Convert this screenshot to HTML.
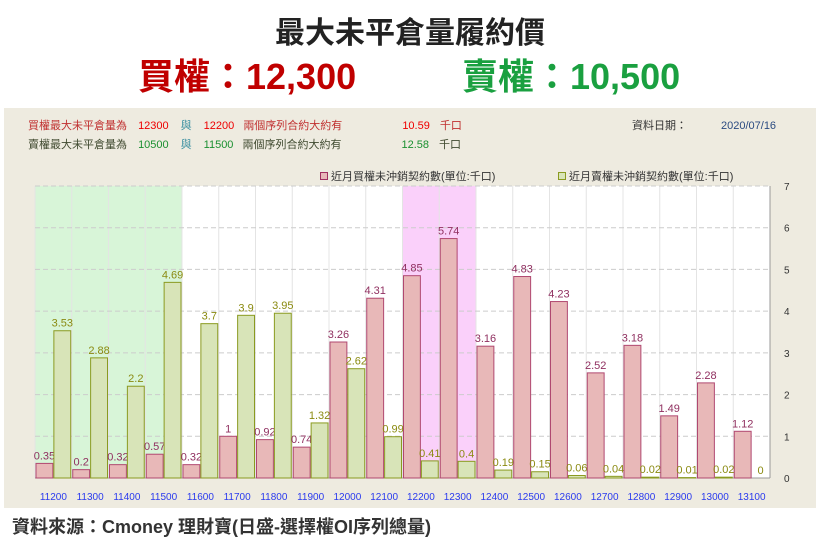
<!DOCTYPE html>
<html><head><meta charset="utf-8"><style>
body{margin:0;width:820px;height:551px;background:#fff;font-family:"Liberation Sans","Noto Sans CJK TC",sans-serif;position:relative;overflow:hidden}
.t{position:absolute;white-space:nowrap}
</style></head><body>
<div class="t" style="left:0;width:820px;text-align:center;top:8px;font-size:30px;font-weight:bold;color:#222">最大未平倉量履約價</div>
<div class="t" style="left:138px;top:48px;font-size:36px;font-weight:bold;color:#c00000">買權：12,300</div>
<div class="t" style="left:462px;top:48px;font-size:36px;font-weight:bold;color:#1aa040">賣權：10,500</div>
<div style="position:absolute;left:4px;top:108px;width:812px;height:400px;background:#eeebe0"></div>
<div class="t" style="left:28px;top:117px;font-size:11px;color:#c03030">買權最大未平倉量為 <span style="color:#e00;margin-left:8px">12300</span><span style="color:#3a8fa0;margin-left:12px">與</span><span style="color:#e00;margin-left:12px">12200</span> <span style="margin-left:6px">兩個序列合約大約有</span><span style="color:#e00;margin-left:60px">10.59</span><span style="margin-left:10px">千口</span></div>
<div class="t" style="left:28px;top:136px;font-size:11px;color:#404a30">賣權最大未平倉量為 <span style="color:#1a9030;margin-left:8px">10500</span><span style="color:#3a8fa0;margin-left:12px">與</span><span style="color:#1a9030;margin-left:12px">11500</span> <span style="margin-left:6px">兩個序列合約大約有</span><span style="color:#1a9030;margin-left:60px">12.58</span><span style="margin-left:10px">千口</span></div>
<div class="t" style="left:632px;top:117px;font-size:11px;color:#333">資料日期：<span style="color:#2a4a80;margin-left:34px">2020/07/16</span></div>
<div class="t" style="left:320px;top:168px;font-size:11px;color:#333"><span style="display:inline-block;width:6px;height:6px;border:1px solid #a03060;background:#e8b8b8;margin-right:3px"></span>近月買權未沖銷契約數(單位:千口)</div>
<div class="t" style="left:558px;top:168px;font-size:11px;color:#333"><span style="display:inline-block;width:6px;height:6px;border:1px solid #8a9a20;background:#d8e4b8;margin-right:3px"></span>近月賣權未沖銷契約數(單位:千口)</div>
<svg id="c" width="820" height="551" style="position:absolute;left:0;top:0"></svg>
<div class="t" style="left:12px;top:513px;font-size:18px;font-weight:bold;color:#333">資料來源：Cmoney 理財寶(日盛-選擇權OI序列總量)</div>
<script>
const categories=["11200","11300","11400","11500","11600","11700","11800","11900","12000","12100","12200","12300","12400","12500","12600","12700","12800","12900","13000","13100"];
const callValues=[0.35,0.2,0.32,0.57,0.32,1,0.92,0.74,3.26,4.31,4.85,5.74,3.16,4.83,4.23,2.52,3.18,1.49,2.28,1.12];
const putValues=[3.53,2.88,2.2,4.69,3.7,3.9,3.95,1.32,2.62,0.99,0.41,0.4,0.19,0.15,0.06,0.04,0.02,0.01,0.02,0];
const yTicks=[0,1,2,3,4,5,6,7];
const putHighlight=[0,3];
const callHighlight=[10,11];
const svg=document.getElementById('c');const NS='http://www.w3.org/2000/svg';
const X0=35,X1=770,Y0=478,Y1=186,YMAX=7;
const bw=(X1-X0)/categories.length;
const x=i=>X0+i*bw;
const y=v=>Y0-(v/YMAX)*(Y0-Y1);
function mk(t,a,txt){const e=document.createElementNS(NS,t);for(const k in a)e.setAttribute(k,a[k]);if(txt!==undefined)e.textContent=txt;svg.appendChild(e);return e;}
let e=mk('rect',{x:X0,y:Y1,width:X1-X0,height:Y0-Y1,fill:'#fff'});


e=mk('rect',{x:x(putHighlight[0]),y:Y1,width:x(putHighlight[1]+1)-x(putHighlight[0]),height:Y0-Y1,fill:'#d8f5d8'});


e=mk('rect',{x:x(callHighlight[0]),y:Y1,width:x(callHighlight[1]+1)-x(callHighlight[0]),height:Y0-Y1,fill:'#fad0fa'});


for(let i=0;i<=categories.length;i++){e=mk('line',{x1:x(i),x2:x(i),y1:Y1,y2:Y0,stroke:'#e4e4e4'});

}
yTicks.forEach(t=>{if(t>0){e=mk('line',{x1:X0,x2:X1,y1:y(t),y2:y(t),stroke:'#ccc','stroke-dasharray':'5,3'});

}
e=mk('text',{x:784,y:y(t)+4,'font-size':10,fill:'#333'},t);

});
e=mk('line',{x1:X0,x2:X1,y1:Y0,y2:Y0,stroke:'#999'});


e=mk('line',{x1:X1,x2:X1,y1:Y1,y2:Y0,stroke:'#999'});


categories.forEach((c,i)=>{
 const b=x(i)+1,w=bw/2-1.5;
 e=mk('rect',{x:b,y:y(callValues[i]),width:w,height:Y0-y(callValues[i]),fill:'#e8b8b8',stroke:'#b04870','stroke-width':1});
 
 
 e=mk('text',{x:b+w/2,y:y(callValues[i])-4,'font-size':11,fill:'#903060','text-anchor':'middle'},callValues[i]);
 
 
 const b2=b+w+1;
 e=mk('rect',{x:b2,y:y(putValues[i]),width:w,height:Y0-y(putValues[i]),fill:'#d8e4b8',stroke:'#8a9a20','stroke-width':1});
 
 
 e=mk('text',{x:b2+w/2,y:y(putValues[i])-4,'font-size':11,fill:'#8a8a10','text-anchor':'middle'},putValues[i]);
 
 
 e=mk('text',{x:x(i)+bw/2,y:500,'font-size':10,fill:'#2a3aee','text-anchor':'middle'},c);
 
 
});
</script>
</body></html>
